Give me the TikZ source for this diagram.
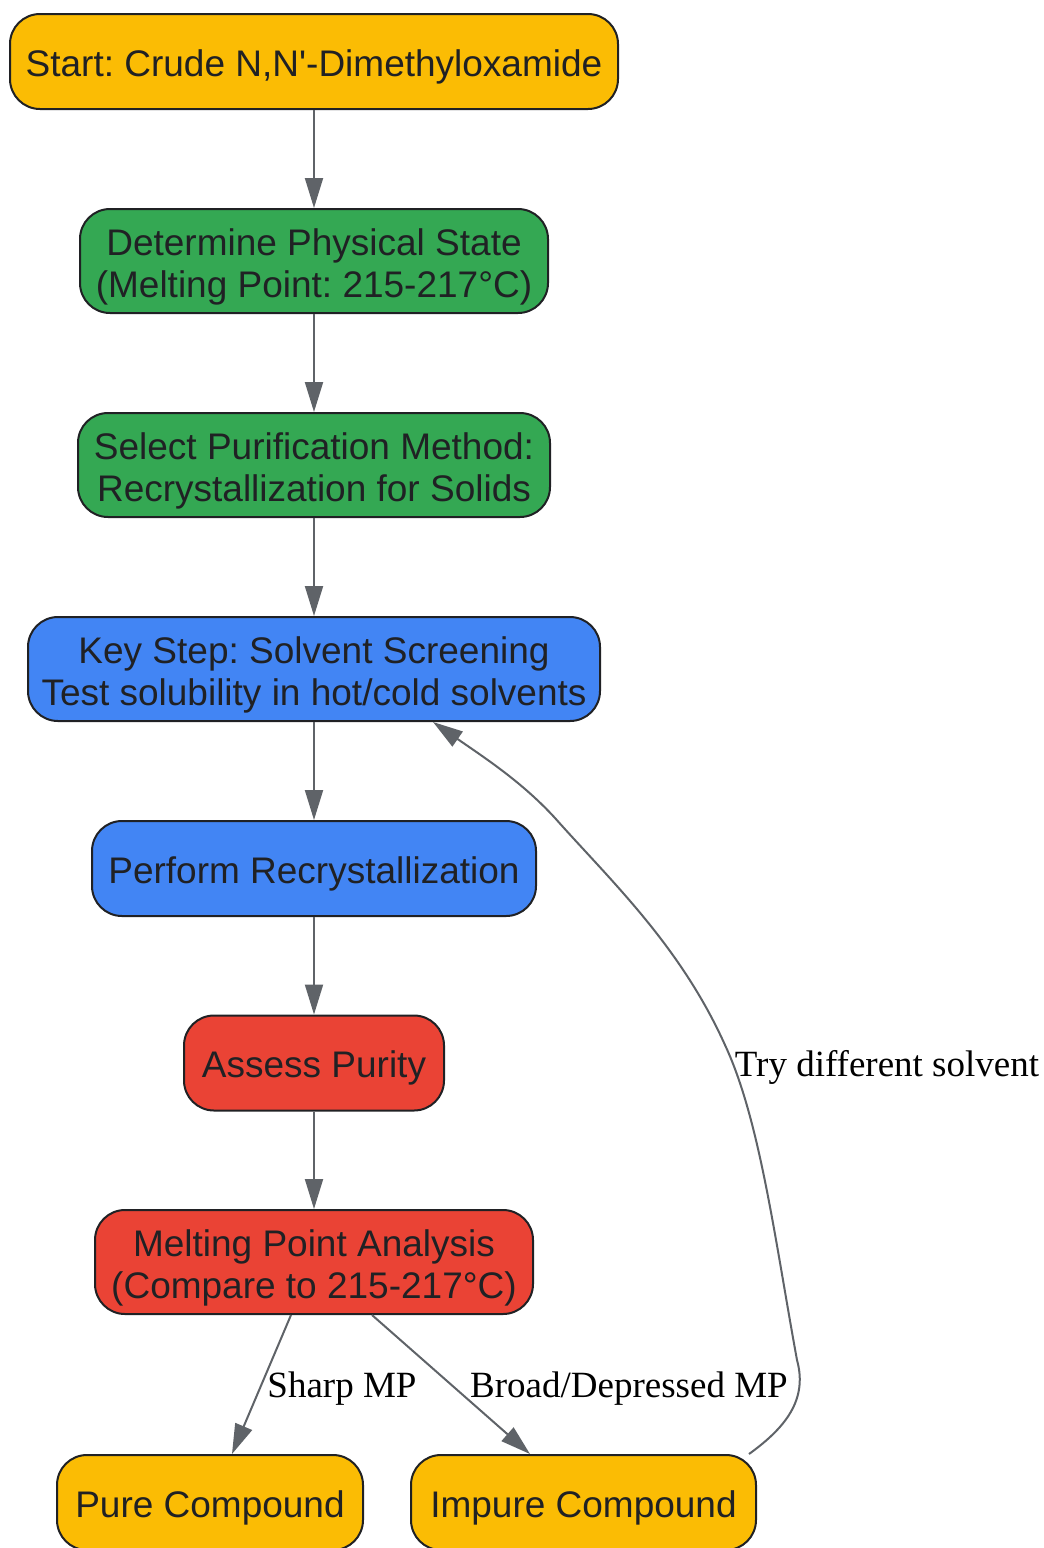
\documentclass[tikz,border=0pt]{standalone}
\usepackage{fontspec}
\setmainfont{Liberation Serif}
\newfontfamily\boxfont{Liberation Sans}
\usetikzlibrary{arrows.meta}
\frenchspacing

\definecolor{startyellow}{HTML}{FBBC04}
\definecolor{stepgreen}{HTML}{34A853}
\definecolor{stepblue}{HTML}{4285F4}
\definecolor{stepred}{HTML}{EA4335}
\definecolor{inkdark}{HTML}{202124}
\definecolor{edgegrey}{HTML}{5F6368}

\newcommand{\firstline}{\rule{0pt}{19.5pt}}

\tikzset{
  box/.style={draw=inkdark, line width=1pt, rounded corners=15pt, align=center,
    font=\boxfont\fontsize{18.5}{21}\selectfont, text=inkdark, inner sep=0pt,
    execute at begin node={\rule{0pt}{18.5pt}}},
  flow/.style={draw=edgegrey, line width=1pt, -{Triangle[length=15pt,width=9pt]}},
  tag/.style={font=\fontsize{18.5}{21}\selectfont, text=black}
}

\begin{document}
\begin{tikzpicture}[x=0.5pt, y=-0.5pt]
  \useasboundingbox (0,0) rectangle (1044,1548);

  % steps
  \node[box, fill=startyellow, minimum width=304pt, minimum height=47.5pt] (start) at (314,61.5) {Start: Crude N,N'-Dimethyloxamide};
  \node[box, fill=stepgreen, minimum width=234pt, minimum height=52pt] (state) at (314,261) {\firstline Determine Physical State\\(Melting Point: 215-217°C)};
  \node[box, fill=stepgreen, minimum width=236pt, minimum height=52pt] (method) at (314,465) {\firstline Select Purification Method:\\Recrystallization for Solids};
  \node[box, fill=stepblue, minimum width=286pt, minimum height=52pt] (screen) at (314,669) {\firstline Key Step: Solvent Screening\\Test solubility in hot/cold solvents};
  \node[box, fill=stepblue, minimum width=222pt, minimum height=47.5pt] (recryst) at (314,868.5) {Perform Recrystallization};
  \node[box, fill=stepred, minimum width=130pt, minimum height=47.5pt] (assess) at (314,1063) {Assess Purity};
  \node[box, fill=stepred, minimum width=219pt, minimum height=52pt] (mp) at (314,1262) {\firstline Melting Point Analysis\\(Compare to 215-217°C)};
  \node[box, fill=startyellow, minimum width=153pt, minimum height=47.5pt] (pure) at (210,1502.5) {Pure Compound};
  \node[box, fill=startyellow, minimum width=172.5pt, minimum height=47.5pt] (impure) at (583.5,1502.5) {Impure Compound};

  % main line
  \draw[flow] (start) -- (state);
  \draw[flow] (state) -- (method);
  \draw[flow] (method) -- (screen);
  \draw[flow] (screen) -- (recryst);
  \draw[flow] (recryst) -- (assess);
  \draw[flow] (assess) -- (mp);

  % outcomes
  \draw[flow] ([xshift=-11.5pt]mp.south) -- ([xshift=11pt]pure.north);
  \draw[flow] ([xshift=29pt]mp.south) -- ([xshift=-26.75pt]impure.north);
  \node[tag] (sharp) at (342,1389) {Sharp MP};
  \node[tag] (broad) at (629,1389) {Broad/Depressed MP};

  % loop back
  \draw[flow] ([xshift=-4pt]impure.north east) .. controls (785,1428) and (808,1400) .. (797,1360)
    .. controls (775,1240) and (760,1120) .. (725,1045)
    .. controls (680,945) and (610,880) .. (555,818)
    .. controls (522,782) and (485,758) .. ([xshift=-84pt]screen.south east);
  \node[tag] (retry) at (887,1067) {Try different solvent};
\end{tikzpicture}
\end{document}
